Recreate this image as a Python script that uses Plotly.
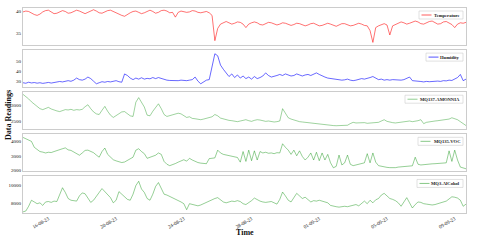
import pandas as pd
import plotly.graph_objects as go
from plotly.subplots import make_subplots

# ---- data (4-hourly readings) ----
start_time = "2023-08-14 12:00"
n_points = 158

temperature = [
    39.8, 40.0, 39.9, 39.5, 39.2, 39.0,
    39.3, 39.8, 40.1, 40.2, 39.8, 39.4,
    39.5, 39.9, 40.1, 39.9, 39.5, 39.6,
    39.9, 40.2, 40.0, 39.6, 39.4, 39.7,
    40.1, 40.3, 40.0, 39.6, 39.5, 39.8,
    40.1, 40.2, 39.9, 39.5, 39.3, 39.0,
    38.8, 39.3, 39.6, 39.9, 40.0, 39.7,
    39.4, 39.6, 40.0, 40.2, 39.9, 39.5,
    39.7, 40.1, 40.2, 40.0, 39.6, 39.7,
    38.6, 39.7, 40.0, 39.9, 39.7, 39.8,
    40.1, 40.0, 39.7, 39.6, 39.8, 39.9,
    39.6, 39.0, 33.2, 36.0, 37.0, 37.4,
    37.6, 37.3, 37.0, 37.2, 37.5, 37.4,
    37.0, 36.2, 37.0, 37.3, 37.5, 37.3,
    36.9, 36.8, 37.1, 37.4, 37.3, 37.0,
    36.8, 37.0, 37.3, 37.2, 36.9, 36.7,
    36.9, 37.2, 37.1, 36.8, 36.6, 36.8,
    37.1, 37.2, 36.9, 36.6, 36.7, 37.0,
    37.2, 37.0, 36.7, 36.5, 36.8, 37.1,
    37.1, 36.8, 36.6, 36.7, 37.0, 37.2,
    37.0, 36.7, 36.6, 35.5, 32.8, 36.2,
    36.6, 36.9, 37.1, 36.8, 34.5, 36.6,
    36.9, 37.3, 37.5, 37.3, 37.0, 37.2,
    37.5, 37.7, 37.5, 37.1, 37.0, 37.3,
    37.6, 37.7, 37.4, 37.0, 37.1, 37.5,
    37.6, 37.3, 36.9, 36.2, 37.0, 37.3,
    37.2, 37.4,
]

humidity = [
    29.0, 28.5, 29.5, 28.8, 29.2, 28.6,
    29.0, 28.4, 28.8, 29.3, 28.7, 29.1,
    29.5, 30.2, 29.8, 30.5, 31.0, 30.4,
    31.5, 33.5, 32.0, 31.5, 32.5, 34.5,
    33.0, 30.5, 28.0, 29.0, 30.0, 29.5,
    30.2, 29.8, 30.5, 31.0, 30.0, 29.5,
    37.5, 36.0, 33.5, 32.0, 33.5, 32.5,
    33.8, 32.5, 33.2, 32.8, 34.0, 33.0,
    34.0, 33.0, 31.8, 31.5, 31.2, 31.0,
    31.3, 31.0, 31.5, 31.2, 31.0, 31.5,
    32.0, 34.5, 30.5, 28.0, 30.0, 31.5,
    32.0, 44.0, 57.0, 55.0, 46.0, 42.0,
    38.5, 35.0, 37.5, 34.0, 36.5, 33.5,
    35.5, 33.0, 34.5, 32.5, 35.0, 33.0,
    34.0, 35.5, 38.5, 36.0, 34.5, 35.0,
    36.0, 37.0, 36.0, 37.5, 36.5, 35.5,
    36.0, 37.5, 36.5, 35.5, 36.5, 37.0,
    36.0, 37.5, 38.5, 37.0, 35.5, 34.5,
    33.5, 33.0, 32.5, 32.0, 31.5, 31.5,
    31.8, 32.5, 31.5, 31.0, 31.5, 32.0,
    33.0, 32.5, 33.0, 34.0, 35.0, 33.5,
    32.0, 32.5, 31.5, 32.0, 31.5, 32.0,
    31.8, 32.2, 31.5, 32.0, 33.5, 34.5,
    31.0, 30.5, 30.0, 30.2, 29.8, 30.3,
    30.0, 30.4, 30.2, 30.6, 30.3, 31.0,
    30.8, 31.5, 31.2, 33.0, 34.0, 37.0,
    31.0, 32.5,
]

mq137_ammonia = [
    3340, 3280, 3200, 3110, 3040, 2960, 2900, 2870, 2900, 2940,
    2890, 2850, 2830, 2810, 2840, 2870, 2860, 2880, 2850, 2870,
    2860, 2880, 2960, 3020, 2900, 2800, 2740, 2720, 2850, 2970,
    2820, 2700, 2630, 2680, 2750, 2800, 2810, 2740, 2680, 2660,
    3100, 3240, 3080, 2950, 2700, 2680, 2820, 2950, 3050, 2900,
    2720, 2660, 2680, 2700, 2720, 2760, 2740, 2680, 2630, 2650,
    2600, 2590, 2570, 2560, 2580, 2600, 2620, 2650, 2720, 2680,
    2610, 2580, 2560, 2540, 2530, 2510, 2500, 2520, 2540, 2560,
    2530, 2510, 2540, 2560, 2550, 2520, 2510, 2520, 2500, 2490,
    2500, 2520, 2900, 2760, 2620, 2580, 2550, 2520, 2500, 2490,
    2480, 2470, 2460, 2440, 2420, 2410, 2400, 2390, 2380, 2375,
    2380, 2375, 2380, 2370, 2380, 2390, 2440, 2480, 2460, 2470,
    2460, 2470, 2450, 2460, 2470, 2460, 2480, 2520, 2560, 2510,
    2480, 2470, 2460, 2470, 2480, 2500, 2510, 2520, 2500, 2510,
    2530, 2560, 2440, 2480, 2500, 2510, 2520, 2530, 2540, 2550,
    2560, 2580, 2620, 2600, 2560, 2500, 2440, 2380,
]

mq135_voc = [
    4300, 4200, 4150, 4020, 3600, 3450, 3300, 3260, 3200, 3250,
    3230, 3300, 3350, 3420, 3500, 3560, 3420, 3380, 3250, 3120,
    3040, 3200, 3380, 3400, 3300, 3220, 3050, 2900, 3300, 3550,
    3100, 2880, 2720, 2640, 2580, 2520, 2560, 2660, 2760, 2900,
    3400, 3500, 3300, 3150, 2820, 2900, 2980, 3040, 3200, 3100,
    2600, 2400, 2300, 2350, 2450, 2550, 2650, 2720, 2620, 2820,
    2700, 2600, 2520, 2480, 2460, 2440, 2800, 2820, 2850, 3400,
    3200, 3100, 3050, 3000, 2950, 2900, 2880, 2550, 3300, 2600,
    3400, 2650, 3350, 2700, 3300, 3200, 3250, 3180, 3200, 3150,
    3220, 3200, 3850, 3600, 3400, 3100, 3400, 3000, 3350, 2950,
    2700, 2900, 3200, 2700, 3250, 2650, 3200, 2700, 3100, 2500,
    2150, 2250, 3050, 2350, 2500, 3050, 2400, 2300, 2350, 2420,
    2450, 2500, 3150, 2500, 3200, 2550, 2300, 2250, 2200, 2180,
    2160, 2150, 2160, 2200, 2220, 2250, 2280, 2300, 2290, 2900,
    2400, 2350, 2380, 2400, 2420, 2430, 2440, 2450, 2460, 2480,
    2500, 3350, 2600, 3400, 2700, 2200, 2150, 2080,
]

mq3_alcohol = [
    6950, 7050, 7600, 8300, 8100, 7900, 8000, 7700, 8100, 8150,
    8050, 8200, 8150, 8900, 9750, 9200, 8500, 8300, 8250, 8200,
    8800, 9150, 9050, 8600, 8050, 8300, 8700, 9200, 9650, 9300,
    8900, 8600, 8000, 8300, 9300, 9000, 8700, 8400, 8300, 9000,
    10000, 10500, 9600, 9200, 8500, 8300, 9000, 9900, 10350, 9600,
    9000, 8900, 8750, 8600, 8450, 8300, 8100, 7900, 7200, 7900,
    7800, 7700, 7650, 7750, 7900, 8050, 8250, 8400, 8500, 8600,
    8300, 8100, 8000, 8100, 8200, 8150, 8250, 8150, 7900, 7800,
    8000, 8250, 8550, 8350, 8200, 8100, 8050, 8100, 8150, 8000,
    7850, 8400, 9250, 8800, 8300, 8100, 8600, 9100, 8800, 8500,
    8650, 8350, 8100, 8250, 8200, 8300, 8200, 8100, 8000, 7700,
    7600, 7550, 7500, 7550, 7600, 7550, 7650, 7700, 7800, 7650,
    7950, 8200, 7900, 8300, 8000, 8350, 8500, 8900, 9100, 8800,
    8500, 8400, 8250, 8000, 7600, 8100, 8600, 8000, 7400, 7800,
    8100, 8050, 7900, 7850, 7800, 7750, 7800, 7900, 8000, 8100,
    8200, 8450, 8700, 8650, 8550, 8300, 7600, 7850,
]

series_names = ["Temperature", "Humidity", "MQ137-AMONNIA", "MQ135-VOC", "MQ3-AlCohol"]
tick_dates = ["2023-08-16", "2023-08-20", "2023-08-24", "2023-08-28",
              "2023-09-01", "2023-09-05", "2023-09-09"]

# ---- figure ----
times = pd.date_range(start_time, periods=n_points, freq="4h")
series = [temperature, humidity, mq137_ammonia, mq135_voc, mq3_alcohol]
colors = ["rgba(255,0,0,0.8)", "rgba(0,0,255,0.85)",
          "rgba(0,140,0,0.55)", "rgba(0,140,0,0.6)", "rgba(0,140,0,0.6)"]
y_ranges = [[32.3, 40.7], [25.2, 60.5], [2281, 3406], [1930, 4520], [6820, 11060]]
y_ticks = [[35, 40], [30, 40, 50], [2500, 3000], [2000, 3000, 4000], [8000, 10000]]
legend_w = [44, 37, 58, 45, 46]

W, H = 480, 241
ML, MR, MT, MB = 23, 14, 8, 28
PW, PH = W - ML - MR, H - MT - MB

fig = make_subplots(rows=5, cols=1, shared_xaxes=True, vertical_spacing=0.027)
FONT = "Liberation Serif, Times New Roman, serif"

for k, (vals, name, col) in enumerate(zip(series, series_names, colors)):
    fig.add_trace(go.Scatter(x=times, y=vals, mode="lines", name=name,
                             line=dict(color=col, width=0.7), showlegend=False),
                  row=k + 1, col=1)
    fig.update_yaxes(range=y_ranges[k], tickvals=y_ticks[k],
                     ticktext=[str(v) for v in y_ticks[k]], row=k + 1, col=1)

    # legend box drawn in the panel's top-right corner
    yax = fig.layout["yaxis" if k == 0 else f"yaxis{k+1}"]
    d0, d1 = yax.domain
    top_px = MT + (1 - d1) * PH
    right_px = W - MR - 3
    box_top, box_bot = top_px + 3, top_px + 11
    box_left = right_px - legend_w[k]
    fx = lambda p: (p - ML) / PW
    fy = lambda p: 1 - (p - MT) / PH
    fig.add_shape(type="rect", xref="paper", yref="paper",
                  x0=fx(box_left), x1=fx(right_px), y0=fy(box_bot), y1=fy(box_top),
                  line=dict(color="#cccccc", width=0.6), fillcolor="white", layer="above")
    ym = fy((box_top + box_bot) / 2)
    fig.add_shape(type="line", xref="paper", yref="paper",
                  x0=fx(box_left + 2.5), x1=fx(box_left + 12.5), y0=ym, y1=ym,
                  line=dict(color=col, width=0.8), layer="above")
    fig.add_annotation(xref="paper", yref="paper", x=fx(right_px - 1.5), y=ym,
                       xanchor="right", yanchor="middle", showarrow=False,
                       text=name, font=dict(family=FONT, size=4.6, color="#222",
                                            weight="bold"))

fig.update_xaxes(showline=True, mirror=True, linecolor="#cccccc", linewidth=1,
                 showgrid=False, zeroline=False, ticks="", automargin=False,
                 range=[times[0], times[-1]],
                 tickvals=pd.to_datetime(tick_dates), tickformat="%d-%m-%y",
                 tickangle=-30, tickfont=dict(family=FONT, size=5, color="#111"))
fig.update_yaxes(showline=True, mirror=True, linecolor="#cccccc", linewidth=1,
                 showgrid=False, zeroline=False, ticks="", automargin=False,
                 tickfont=dict(family=FONT, size=5, color="#111"))

fig.add_annotation(xref="paper", yref="paper", x=(8 - ML) / PW, y=1 - (115 - MT) / PH,
                   text="Data Readings", textangle=-90, showarrow=False,
                   xanchor="center", yanchor="middle",
                   font=dict(family=FONT, size=8, color="#111", weight="bold"))
fig.add_annotation(xref="paper", yref="paper", x=(245 - ML) / PW, y=1 - (232 - MT) / PH,
                   text="Time", showarrow=False, xanchor="center", yanchor="middle",
                   font=dict(family=FONT, size=8, color="#111", weight="bold"))

fig.update_layout(width=W, height=H, margin=dict(l=ML, r=MR, t=MT, b=MB),
                  paper_bgcolor="white", plot_bgcolor="white", showlegend=False)

fig.write_html("out.html", config={"displayModeBar": False},
               post_script="document.body.style.margin='0';document.body.style.padding='0';")
